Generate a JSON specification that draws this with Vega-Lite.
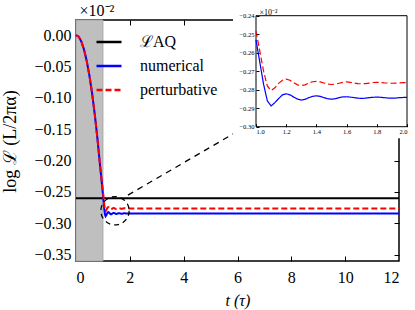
{
  "$schema": "https://vega.github.io/schema/vega-lite/v6.json",
  "width": 323,
  "height": 241,
  "autosize": {"type": "none"},
  "padding": {"left": 76, "top": 20, "right": 16, "bottom": 49},
  "config": {
    "font": "Liberation Serif",
    "view": {"stroke": "black", "strokeWidth": 1.5},
    "axis": {"grid": false, "domain": false, "tickColor": "black", "labelColor": "black", "titleColor": "black", "titleFontWeight": "normal", "labelFont": "Liberation Serif", "titleFont": "Liberation Serif", "labelOverlap": false, "tickCount": 20},
    "legend": {"orient": "none", "legendX": 19, "legendY": 8, "symbolType": "stroke", "symbolSize": 625, "symbolStrokeWidth": 2.5, "labelFontSize": 16, "labelFont": "Liberation Serif", "labelColor": "black", "labelOffset": 17, "rowPadding": 2, "title": null}
  },
  "datasets": {
    "curves": [
      {"series": "numerical", "t": 0, "v": 0}, {"series": "numerical", "t": 0.1, "v": -0.0026}, {"series": "numerical", "t": 0.2, "v": -0.0104}, {"series": "numerical", "t": 0.3, "v": -0.0234}, {"series": "numerical", "t": 0.4, "v": -0.0416}, {"series": "numerical", "t": 0.5, "v": -0.065}, {"series": "numerical", "t": 0.6, "v": -0.0936}, {"series": "numerical", "t": 0.7, "v": -0.1274}, {"series": "numerical", "t": 0.8, "v": -0.1664}, {"series": "numerical", "t": 0.9, "v": -0.2106},
      {"series": "numerical", "t": 1.0, "v": -0.2531}, {"series": "numerical", "t": 1.025, "v": -0.265}, {"series": "numerical", "t": 1.05, "v": -0.277}, {"series": "numerical", "t": 1.075, "v": -0.286}, {"series": "numerical", "t": 1.1, "v": -0.2888}, {"series": "numerical", "t": 1.125, "v": -0.287}, {"series": "numerical", "t": 1.15, "v": -0.2848}, {"series": "numerical", "t": 1.175, "v": -0.2828}, {"series": "numerical", "t": 1.2, "v": -0.2822}, {"series": "numerical", "t": 1.225, "v": -0.2828}, {"series": "numerical", "t": 1.25, "v": -0.284}, {"series": "numerical", "t": 1.275, "v": -0.2851}, {"series": "numerical", "t": 1.3, "v": -0.2856}, {"series": "numerical", "t": 1.325, "v": -0.2852}, {"series": "numerical", "t": 1.35, "v": -0.2843}, {"series": "numerical", "t": 1.375, "v": -0.2836}, {"series": "numerical", "t": 1.4, "v": -0.2833}, {"series": "numerical", "t": 1.425, "v": -0.2836}, {"series": "numerical", "t": 1.45, "v": -0.2843}, {"series": "numerical", "t": 1.475, "v": -0.2849}, {"series": "numerical", "t": 1.5, "v": -0.2851}, {"series": "numerical", "t": 1.525, "v": -0.2849}, {"series": "numerical", "t": 1.55, "v": -0.2843}, {"series": "numerical", "t": 1.575, "v": -0.2839}, {"series": "numerical", "t": 1.6, "v": -0.2838}, {"series": "numerical", "t": 1.625, "v": -0.284}, {"series": "numerical", "t": 1.65, "v": -0.2843}, {"series": "numerical", "t": 1.675, "v": -0.2846}, {"series": "numerical", "t": 1.7, "v": -0.2847}, {"series": "numerical", "t": 1.725, "v": -0.2846}, {"series": "numerical", "t": 1.75, "v": -0.2843}, {"series": "numerical", "t": 1.775, "v": -0.2841}, {"series": "numerical", "t": 1.8, "v": -0.284}, {"series": "numerical", "t": 1.825, "v": -0.2841}, {"series": "numerical", "t": 1.85, "v": -0.2843}, {"series": "numerical", "t": 1.875, "v": -0.2845}, {"series": "numerical", "t": 1.9, "v": -0.2845}, {"series": "numerical", "t": 1.925, "v": -0.2845}, {"series": "numerical", "t": 1.95, "v": -0.2843}, {"series": "numerical", "t": 1.975, "v": -0.2842}, {"series": "numerical", "t": 2.0, "v": -0.2842}, {"series": "numerical", "t": 12, "v": -0.2843},
      {"series": "perturbative", "t": 0, "v": 0}, {"series": "perturbative", "t": 0.1, "v": -0.0026}, {"series": "perturbative", "t": 0.2, "v": -0.0104}, {"series": "perturbative", "t": 0.3, "v": -0.0234}, {"series": "perturbative", "t": 0.4, "v": -0.0416}, {"series": "perturbative", "t": 0.5, "v": -0.065}, {"series": "perturbative", "t": 0.6, "v": -0.0936}, {"series": "perturbative", "t": 0.7, "v": -0.1274}, {"series": "perturbative", "t": 0.8, "v": -0.1664}, {"series": "perturbative", "t": 0.9, "v": -0.2106},
      {"series": "perturbative", "t": 1.0, "v": -0.2483}, {"series": "perturbative", "t": 1.025, "v": -0.259}, {"series": "perturbative", "t": 1.05, "v": -0.27}, {"series": "perturbative", "t": 1.075, "v": -0.278}, {"series": "perturbative", "t": 1.1, "v": -0.2805}, {"series": "perturbative", "t": 1.125, "v": -0.279}, {"series": "perturbative", "t": 1.15, "v": -0.2766}, {"series": "perturbative", "t": 1.175, "v": -0.2749}, {"series": "perturbative", "t": 1.2, "v": -0.2743}, {"series": "perturbative", "t": 1.225, "v": -0.2749}, {"series": "perturbative", "t": 1.25, "v": -0.2762}, {"series": "perturbative", "t": 1.275, "v": -0.2774}, {"series": "perturbative", "t": 1.3, "v": -0.2778}, {"series": "perturbative", "t": 1.325, "v": -0.2774}, {"series": "perturbative", "t": 1.35, "v": -0.2764}, {"series": "perturbative", "t": 1.375, "v": -0.2757}, {"series": "perturbative", "t": 1.4, "v": -0.2755}, {"series": "perturbative", "t": 1.425, "v": -0.2758}, {"series": "perturbative", "t": 1.45, "v": -0.2764}, {"series": "perturbative", "t": 1.475, "v": -0.277}, {"series": "perturbative", "t": 1.5, "v": -0.2772}, {"series": "perturbative", "t": 1.525, "v": -0.277}, {"series": "perturbative", "t": 1.55, "v": -0.2765}, {"series": "perturbative", "t": 1.575, "v": -0.276}, {"series": "perturbative", "t": 1.6, "v": -0.2758}, {"series": "perturbative", "t": 1.625, "v": -0.276}, {"series": "perturbative", "t": 1.65, "v": -0.2764}, {"series": "perturbative", "t": 1.675, "v": -0.2767}, {"series": "perturbative", "t": 1.7, "v": -0.2768}, {"series": "perturbative", "t": 1.725, "v": -0.2767}, {"series": "perturbative", "t": 1.75, "v": -0.2764}, {"series": "perturbative", "t": 1.775, "v": -0.2761}, {"series": "perturbative", "t": 1.8, "v": -0.276}, {"series": "perturbative", "t": 1.825, "v": -0.2761}, {"series": "perturbative", "t": 1.85, "v": -0.2763}, {"series": "perturbative", "t": 1.875, "v": -0.2764}, {"series": "perturbative", "t": 1.9, "v": -0.2765}, {"series": "perturbative", "t": 1.925, "v": -0.2764}, {"series": "perturbative", "t": 1.95, "v": -0.2763}, {"series": "perturbative", "t": 1.975, "v": -0.2762}, {"series": "perturbative", "t": 2.0, "v": -0.2762}, {"series": "perturbative", "t": 12, "v": -0.2762}
    ]
  },
  "layer": [
    {
      "layer": [
        {
          "data": {"values": [{"a": 0, "b": 1}]},
          "mark": {"type": "rect", "fill": "#bfbfbf", "stroke": "#a6a6a6", "strokeWidth": 1},
          "encoding": {
            "x": {"field": "a", "type": "quantitative", "scale": {"domain": [0, 12], "nice": false, "zero": false},
              "axis": {"values": [0, 2, 4, 6, 8, 10, 12], "tickCount": 20, "format": "d", "title": "t (τ)", "titleFontStyle": "italic", "ticks": false, "labelPadding": 8, "labelFontSize": 16, "titleFontSize": 16, "titlePadding": 7, "labelOverlap": false}},
            "x2": {"field": "b"}
          }
        },
        {
          "data": {"values": [{"series": "ℒAQ", "v": -0.26}]},
          "mark": {"type": "rule", "strokeWidth": 2},
          "encoding": {
            "y": {"field": "v", "type": "quantitative", "scale": {"domain": [-0.36, 0.024], "nice": false, "zero": false},
              "axis": {"values": [-0.35, -0.3, -0.25, -0.2, -0.15, -0.1, -0.05, 0], "tickCount": 20, "format": ".2f", "title": "log ℒ (L/2πα)", "ticks": false, "labelPadding": 5, "labelFontSize": 16, "labelOverlap": false, "titleFontSize": 18, "titleAngle": -90, "titleBaseline": "alphabetic", "titleAlign": "center", "titleX": -61, "titleY": 121}},
            "color": {"field": "series", "type": "nominal", "scale": {"domain": ["ℒAQ", "numerical", "perturbative"], "range": ["#000000", "#0000ff", "#ff0000"]}},
            "strokeDash": {"field": "series", "type": "nominal", "scale": {"domain": ["ℒAQ", "numerical", "perturbative"], "range": [[1, 0], [1, 0], [6, 3]]}}
          }
        },
        {
          "data": {"name": "curves"},
          "mark": {"type": "line", "strokeWidth": 2},
          "encoding": {
            "x": {"field": "t", "type": "quantitative"},
            "y": {"field": "v", "type": "quantitative"},
            "color": {"field": "series", "type": "nominal"},
            "strokeDash": {"field": "series", "type": "nominal"}
          }
        }
      ]
    },
    {
      "data": {"values": [{"t": 1.45, "v": -0.28}]},
      "mark": {"type": "point", "shape": "circle", "size": 800, "filled": false, "stroke": "black", "strokeWidth": 1.3, "strokeDash": [5, 4], "opacity": 1},
      "encoding": {
        "x": {"field": "t", "type": "quantitative", "scale": {"domain": [0, 12], "nice": false, "zero": false},
          "axis": {"orient": "bottom", "values": [2, 4, 6, 8, 10], "tickCount": 20, "labels": false, "tickSize": -5, "title": null}},
        "y": {"field": "v", "type": "quantitative", "scale": {"domain": [-0.36, 0.024], "nice": false, "zero": false},
          "axis": {"orient": "left", "values": [-0.35, -0.3, -0.25, -0.2, -0.15, -0.1, -0.05, 0], "tickCount": 20, "labels": false, "tickSize": -5, "title": null}}
      }
    },
    {
      "data": {"values": [{"t": 1.93, "v": -0.255}, {"t": 5.9, "v": -0.156}]},
      "mark": {"type": "line", "stroke": "black", "strokeWidth": 1.3, "strokeDash": [6, 5]},
      "encoding": {
        "x": {"field": "t", "type": "quantitative", "scale": {"domain": [0, 12], "nice": false, "zero": false},
          "axis": {"orient": "top", "values": [2, 4, 6, 8, 10], "tickCount": 20, "labels": false, "tickSize": -5, "title": "×10⁻²", "titleFontSize": 16, "titleAngle": 0, "titleAlign": "left", "titleBaseline": "alphabetic", "titleX": 3, "titleY": -5}},
        "y": {"field": "v", "type": "quantitative", "scale": {"domain": [-0.36, 0.024], "nice": false, "zero": false},
          "axis": {"orient": "right", "values": [-0.35, -0.3, -0.25, -0.2, -0.15, -0.1, -0.05, 0], "tickCount": 20, "labels": false, "tickSize": -5, "title": null}}
      }
    },
    {
      "layer": [
        {
          "data": {"values": [{"x1": 0.848, "x2": 2.25, "y1": -0.3062, "y2": -0.225}]},
          "mark": {"type": "rect", "fill": "white"},
          "encoding": {
            "x": {"field": "x1", "type": "quantitative", "scale": {"domain": [1, 2], "range": [180, 331], "nice": false, "zero": false},
              "axis": {"orient": "bottom", "offset": -134.3, "values": [1, 1.2, 1.4, 1.6, 1.8, 2], "tickCount": 20, "format": ".1f", "labelFontSize": 6.5, "tickSize": -3, "labelPadding": 5, "title": null, "zindex": 1, "labelOverlap": false}},
            "x2": {"field": "x2"},
            "y": {"field": "y1", "type": "quantitative", "scale": {"domain": [-0.3, -0.24], "range": [106.7, -4.3], "nice": false, "zero": false},
              "axis": {"orient": "left", "offset": -180, "values": [-0.3, -0.29, -0.28, -0.27, -0.26, -0.25, -0.24], "tickCount": 20, "format": ".2f", "labelFontSize": 6.5, "tickSize": -3, "labelPadding": 5, "zindex": 1, "labelOverlap": false, "title": "×10⁻²", "titleFontSize": 8, "titleAngle": 0, "titleAlign": "left", "titleBaseline": "alphabetic", "titleX": 3, "titleY": -6}},
            "y2": {"field": "y2"}
          }
        },
        {
          "data": {"values": [{"x1": 1, "x2": 2, "y1": -0.3, "y2": -0.24}]},
          "mark": {"type": "rect", "fill": "white", "fillOpacity": 0, "stroke": "black", "strokeWidth": 1},
          "encoding": {
            "x": {"field": "x1", "type": "quantitative"},
            "x2": {"field": "x2"},
            "y": {"field": "y1", "type": "quantitative"},
            "y2": {"field": "y2"}
          }
        },
        {
          "data": {"name": "curves"},
          "transform": [{"filter": {"field": "t", "range": [1, 2]}}],
          "mark": {"type": "line", "strokeWidth": 1.2},
          "encoding": {
            "x": {"field": "t", "type": "quantitative"},
            "y": {"field": "v", "type": "quantitative"},
            "color": {"field": "series", "type": "nominal"},
            "strokeDash": {"field": "series", "type": "nominal"}
          }
        }
      ]
    }
  ],
  "resolve": {"scale": {"x": "independent", "y": "independent"}}
}
